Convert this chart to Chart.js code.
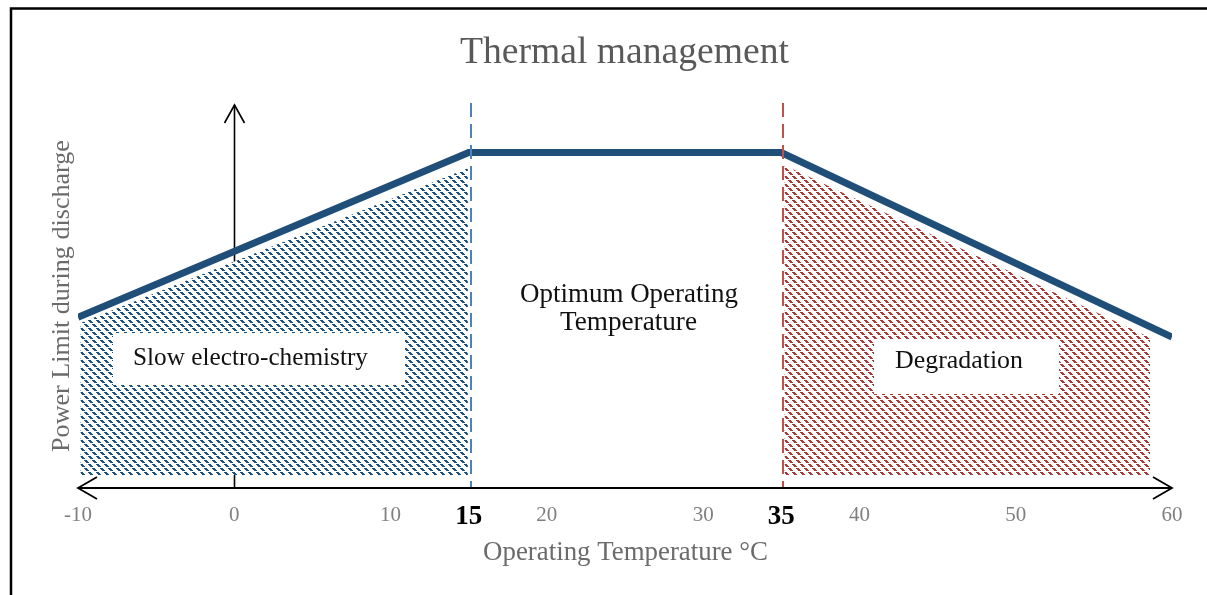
<!DOCTYPE html>
<html>
<head>
<meta charset="utf-8">
<title>Thermal management</title>
<script src="https://cdn.jsdelivr.net/npm/chart.js@4.4.0/dist/chart.umd.min.js"></script>
<style>
  html, body { margin: 0; padding: 0; background: #fff; }
  #wrap { width: 1207px; height: 595px; position: relative; }
  canvas { display: block; }
</style>
</head>
<body>
<div id="wrap"><canvas id="c" width="1207" height="595"></canvas></div>
<script>
// Operating temperature (°C) against relative discharge power limit
const temps = [-10, 15, 35, 60];
const powerLimit = [44.6, 87.6, 87.6, 39.4];

// Hatched zones under the curve
const coldZoneTemps = [-9.85, 14.95];
const coldZoneTop = [43.1, 83.5];
const hotZoneTemps = [35.2, 58.6];
const hotZoneTop = [84.3, 39.2];
const zoneFloor = 3.4;

// Axis ticks; the optimum window bounds are highlighted
const tickTemps = [-10, 0, 10, 15, 20, 30, 35, 40, 50, 60];
const optimumBounds = [15, 35];

const FAMILY = '"Liberation Serif", "Times New Roman", serif';
const NAVY = '#1F4E79';
const BLUE_DASH = '#4F81BD';
const RED_DASH = '#C0504D';
const RED_HATCH = '#A33A3A';

const toPoints = (xs, ys) => xs.map((x, i) => ({ x, y: ys[i] }));
const isBound = v => optimumBounds.includes(v);

const canvas = document.getElementById('c');
const ctx0 = canvas.getContext('2d');

// Diagonal "\" hatch tile: broken stair-step strokes
function hatch(color) {
  const n = 8;
  const t = document.createElement('canvas');
  t.width = t.height = n;
  const g = t.getContext('2d');
  g.fillStyle = '#fff';
  g.fillRect(0, 0, n, n);
  g.fillStyle = color;
  for (let i = 0; i < n; i++) {
    if (i % 4 === 3) continue;
    g.fillRect(i, i, 3, 1);
    if (i + 3 > n) g.fillRect(0, i, i + 3 - n, 1);
  }
  return ctx0.createPattern(t, 'repeat');
}

// Draw text scaled so that it spans a given width
function fitText(ctx, text, cx, baseline, width, color, opts = {}) {
  const weight = opts.weight || 'normal';
  ctx.save();
  ctx.font = `${weight} 20px ${FAMILY}`;
  const size = 20 * width / ctx.measureText(text).width;
  ctx.font = `${weight} ${size}px ${FAMILY}`;
  ctx.fillStyle = color;
  ctx.textAlign = 'center';
  ctx.textBaseline = 'alphabetic';
  if (opts.rotate) {
    ctx.translate(cx, baseline);
    ctx.rotate(opts.rotate);
    ctx.fillText(text, 0, 0);
  } else {
    ctx.fillText(text, cx, baseline);
  }
  ctx.restore();
}

function chevron(ctx, tipX, tipY, dx1, dy1, dx2, dy2) {
  ctx.beginPath();
  ctx.moveTo(tipX + dx1, tipY + dy1);
  ctx.lineTo(tipX, tipY);
  ctx.lineTo(tipX + dx2, tipY + dy2);
  ctx.stroke();
}

const decorations = {
  id: 'decorations',
  beforeDraw(chart) {
    const ctx = chart.ctx;
    ctx.save();
    ctx.fillStyle = '#fff';
    ctx.fillRect(0, 0, chart.width, chart.height);
    // frame
    ctx.strokeStyle = '#000';
    ctx.lineWidth = 2.5;
    ctx.beginPath();
    ctx.moveTo(11, chart.height);
    ctx.lineTo(11, 8.5);
    ctx.lineTo(chart.width, 8.5);
    ctx.stroke();
    ctx.restore();
  },
  beforeDatasetsDraw(chart) {
    const ctx = chart.ctx;
    const { x, y } = chart.scales;
    const x0 = Math.round(x.getPixelForValue(0)) + 0.5;
    ctx.save();
    ctx.strokeStyle = '#000';
    ctx.lineWidth = 1.6;
    ctx.beginPath();
    ctx.moveTo(x0, y.getPixelForValue(0));
    ctx.lineTo(x0, y.getPixelForValue(100));
    ctx.stroke();
    chevron(ctx, x0, y.getPixelForValue(100), -10, 18, 10, 18);
    ctx.restore();
  },
  afterDatasetsDraw(chart) {
    const ctx = chart.ctx;
    const { x, y } = chart.scales;
    const area = chart.chartArea;
    ctx.save();

    // optimum window bounds
    ctx.lineWidth = 2;
    ctx.setLineDash([14, 7]);
    [[optimumBounds[0], BLUE_DASH], [optimumBounds[1], RED_DASH]].forEach(([v, col]) => {
      const px = Math.round(x.getPixelForValue(v)) + 2;
      ctx.strokeStyle = col;
      ctx.beginPath();
      ctx.moveTo(px, area.top - 2);
      ctx.lineTo(px, area.bottom);
      ctx.stroke();
    });
    ctx.setLineDash([]);

    // horizontal axis with arrows at both ends
    const yb = Math.round(y.getPixelForValue(0));
    ctx.strokeStyle = '#000';
    ctx.lineWidth = 2;
    ctx.beginPath();
    ctx.moveTo(area.left, yb);
    ctx.lineTo(area.right, yb);
    ctx.stroke();
    ctx.lineWidth = 1.8;
    chevron(ctx, area.left, yb, 19, -11, 19, 11);
    chevron(ctx, area.right, yb, -19, -11, -19, 11);

    // zone labels
    ctx.fillStyle = '#fff';
    ctx.fillRect(113, 333, 292, 52);
    ctx.fillRect(874, 339, 185, 55);
    fitText(ctx, 'Slow electro-chemistry', 250.5, 365, 235, '#111');
    fitText(ctx, 'Degradation', 959, 368, 128, '#111');
    fitText(ctx, 'Optimum Operating', 629, 302, 218, '#111');
    fitText(ctx, 'Temperature', 628.5, 330, 137, '#111');

    // titles
    fitText(ctx, 'Thermal management', 624.5, 63, 329, '#595959');
    fitText(ctx, 'Operating Temperature °C', 625.5, 560, 285, '#6b6b6b');
    fitText(ctx, 'Power Limit during discharge', 69, 296, 312, '#6b6b6b', { rotate: -Math.PI / 2 });
    ctx.restore();
  }
};

new Chart(canvas, {
  type: 'line',
  data: {
    datasets: [
      {
        label: 'Power limit',
        data: toPoints(temps, powerLimit),
        borderColor: NAVY,
        backgroundColor: 'rgba(0,0,0,0)',
        borderWidth: 7,
        borderJoinStyle: 'miter',
        borderCapStyle: 'butt',
        pointRadius: 0,
        tension: 0,
        fill: false
      },
      {
        label: 'Slow electro-chemistry',
        data: toPoints(coldZoneTemps, coldZoneTop),
        borderWidth: 0,
        borderColor: 'rgba(0,0,0,0)',
        pointRadius: 0,
        backgroundColor: hatch(NAVY),
        fill: { value: zoneFloor }
      },
      {
        label: 'Degradation',
        data: toPoints(hotZoneTemps, hotZoneTop),
        borderWidth: 0,
        borderColor: 'rgba(0,0,0,0)',
        pointRadius: 0,
        backgroundColor: hatch(RED_HATCH),
        fill: { value: zoneFloor }
      }
    ]
  },
  options: {
    responsive: false,
    animation: false,
    devicePixelRatio: 1,
    layout: { padding: { left: 78, right: 35, top: 105, bottom: 0 } },
    plugins: {
      legend: { display: false },
      tooltip: { enabled: false },
      title: { display: false }
    },
    scales: {
      x: {
        type: 'linear',
        min: -10,
        max: 60,
        grid: { display: false, drawTicks: false },
        border: { display: false },
        afterBuildTicks: s => { s.ticks = tickTemps.map(v => ({ value: v })); },
        afterFit: s => { s.height = 107; },
        ticks: {
          autoSkip: false,
          maxRotation: 0,
          padding: 15,
          color: c => (c.tick && isBound(c.tick.value)) ? '#000' : '#808080',
          font: c => (c.tick && isBound(c.tick.value))
            ? { family: FAMILY, size: 27, weight: 'bold', lineHeight: 1.05 }
            : { family: FAMILY, size: 21 }
        }
      },
      y: { display: false, min: 0, max: 100 }
    }
  },
  plugins: [decorations]
});
</script>
</body>
</html>
